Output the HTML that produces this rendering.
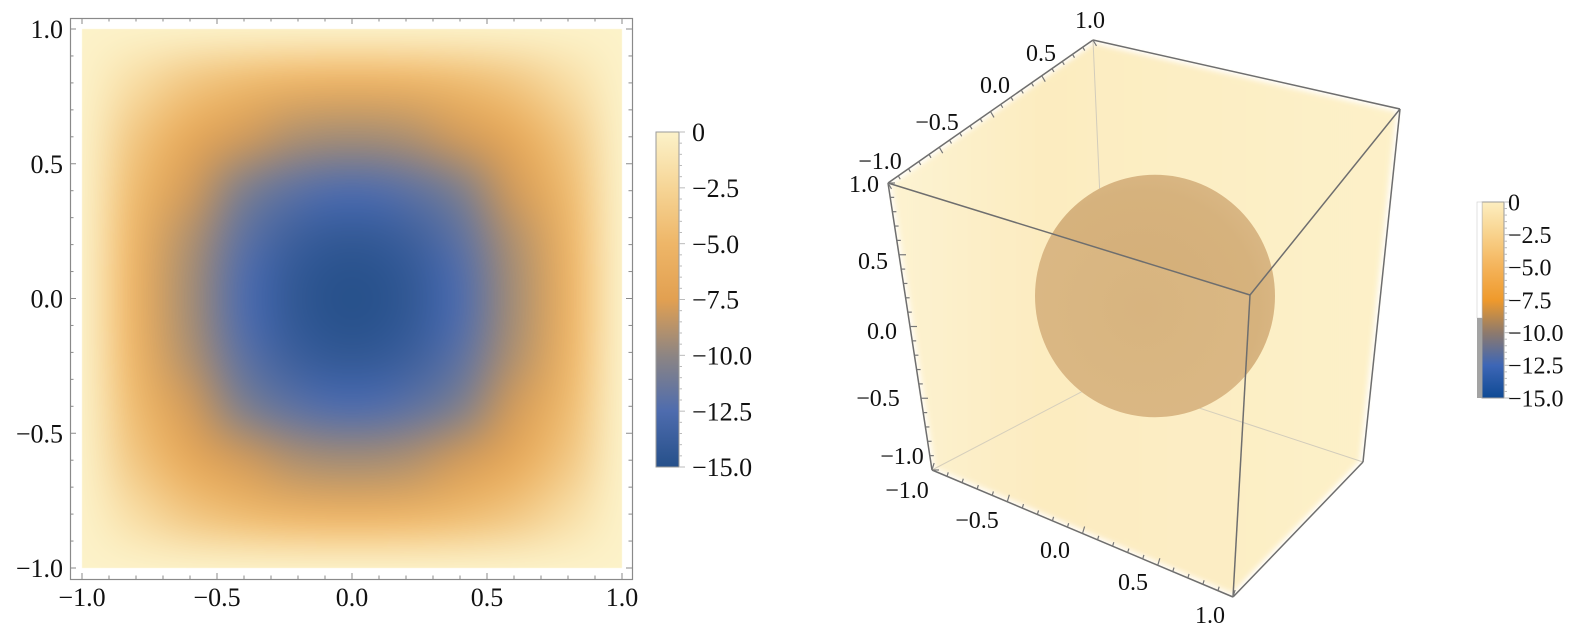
<!DOCTYPE html>
<html><head><meta charset="utf-8">
<style>
body{margin:0;background:#fff;width:1591px;height:636px;overflow:hidden;position:relative;font-family:"Liberation Serif",serif}
canvas,svg{position:absolute;left:0;top:0}
text{font-family:"Liberation Serif",serif;fill:#111}
</style></head>
<body>
<canvas id="heat" width="1591" height="636"></canvas>
<svg id="svg" width="1591" height="636"></svg>
<script>
// ---- data ----
const xTicks = [-1, -0.5, 0, 0.5, 1];
const yTicks = [-1, -0.5, 0, 0.5, 1];
const tickLabels = ["\u22121.0", "\u22120.5", "0.0", "0.5", "1.0"];
const cbValues = [0, -2.5, -5, -7.5, -10, -12.5, -15];
const cbLabels = ["0", "\u22122.5", "\u22125.0", "\u22127.5", "\u221210.0", "\u221212.5", "\u221215.0"];
const cmapColors = ["#fcf2c9", "#f6d596", "#eeb668", "#e2a051", "#8d8583", "#4e6cae", "#26508a"];
const cmap3dColors = ["#fdeec0", "#f8d28c", "#f4b35a", "#ef9a2c", "#8e7a6c", "#3d66b6", "#0f4a94"];
const gridX = [-1, -0.8, -0.6, -0.4, -0.2, 0, 0.2, 0.4, 0.6, 0.8, 1];
const zValues = [
 [0,0,0,0,0,0,0,0,0,0,0],
 [0,-1.8,-3.6,-4.6,-5.2,-5.4,-5.2,-4.6,-3.6,-1.8,0],
 [0,-3.6,-6.4,-8.0,-9.0,-9.3,-9.0,-8.0,-6.4,-3.6,0],
 [0,-4.6,-8.0,-10.6,-12.0,-12.5,-12.0,-10.6,-8.0,-4.6,0],
 [0,-5.2,-9.0,-12.0,-13.8,-14.4,-13.8,-12.0,-9.0,-5.2,0],
 [0,-5.4,-9.3,-12.5,-14.4,-15.0,-14.4,-12.5,-9.3,-5.4,0],
 [0,-5.2,-9.0,-12.0,-13.8,-14.4,-13.8,-12.0,-9.0,-5.2,0],
 [0,-4.6,-8.0,-10.6,-12.0,-12.5,-12.0,-10.6,-8.0,-4.6,0],
 [0,-3.6,-6.4,-8.0,-9.0,-9.3,-9.0,-8.0,-6.4,-3.6,0],
 [0,-1.8,-3.6,-4.6,-5.2,-5.4,-5.2,-4.6,-3.6,-1.8,0],
 [0,0,0,0,0,0,0,0,0,0,0]
];
const cube3dTicks = [-1, -0.5, 0, 0.5, 1];
const sphereRadius = [0.78];

// ---- helpers ----
const NS = "http://www.w3.org/2000/svg";
const svg = document.getElementById('svg');
function el(tag, attrs, parent){const e=document.createElementNS(NS,tag);for(const k in attrs)e.setAttribute(k,attrs[k]);(parent||svg).appendChild(e);return e;}
function hex2rgb(h){return [parseInt(h.slice(1,3),16),parseInt(h.slice(3,5),16),parseInt(h.slice(5,7),16)];}
function colorOf(v, cols){
  const t=Math.max(0,Math.min(1,-v/15))*(cols.length-1);
  const i=Math.min(cols.length-2,Math.floor(t)), f=t-i;
  const a=hex2rgb(cols[i]), b=hex2rgb(cols[i+1]);
  return [0,1,2].map(k=>Math.round(a[k]+(b[k]-a[k])*f));
}
// ---- left plot axes ----
const X0=82, X1=622, Y0=568, Y1=29;
const sx = v => X0 + (v+1)/2*(X1-X0);
const sy = v => Y0 - (v+1)/2*(Y0-Y1);

// heatmap
(function(){
  const n=gridX.length;
  const off=document.createElement('canvas'); off.width=n; off.height=n;
  const octx=off.getContext('2d'); const img=octx.createImageData(n,n);
  for(let j=0;j<n;j++)for(let i=0;i<n;i++){
    const c=colorOf(zValues[j][i],cmapColors); const p=(j*n+i)*4;
    img.data[p]=c[0];img.data[p+1]=c[1];img.data[p+2]=c[2];img.data[p+3]=255;
  }
  octx.putImageData(img,0,0);
  const ctx=document.getElementById('heat').getContext('2d');
  ctx.save(); ctx.beginPath(); ctx.rect(X0,Y1,X1-X0,Y0-Y1); ctx.clip();
  ctx.imageSmoothingEnabled=true; ctx.imageSmoothingQuality='high';
  const cw=(X1-X0)/(n-1), ch=(Y0-Y1)/(n-1);
  ctx.drawImage(off, X0-cw/2, Y1-ch/2, (X1-X0)+cw, (Y0-Y1)+ch);
  ctx.restore();
})();

const left = el('g',{});


const frame = el('rect',{x:70.5,y:18.5,width:562,height:561,fill:'none',stroke:'#8a8a8a','stroke-width':1.2},left);


for(let k=-10;k<=10;k++){
  const v=k/10, major=(k%5===0), L=major?6:3.5;
  const x=sx(v), y=sy(v);
  el('line',{x1:x,y1:579,x2:x,y2:579-L,stroke:'#8a8a8a'},left);
  el('line',{x1:x,y1:18,x2:x,y2:18+L,stroke:'#8a8a8a'},left);
  el('line',{x1:70,y1:y,x2:70+L,y2:y,stroke:'#8a8a8a'},left);
  el('line',{x1:632,y1:y,x2:632-L,y2:y,stroke:'#8a8a8a'},left);
}
xTicks.forEach((v,i)=>{
  const t=el('text',{x:sx(v),y:606,'font-size':26,'text-anchor':'middle'},left);
  t.textContent=tickLabels[i];
  
  
});
yTicks.forEach((v,i)=>{
  const t=el('text',{x:63,y:sy(v)+9,'font-size':26,'text-anchor':'end'},left);
  t.textContent=tickLabels[i];
  
  
});

// colorbar builder
function colorbar(x,y0,y1,w,cols,id,fs,lx){
  const g=el('g',{});
  
  
  const defs=el('defs',{},g);
  const lg=el('linearGradient',{id:'cb'+id,x1:0,y1:0,x2:0,y2:1},defs);
  cbValues.forEach((v,i)=>{const c=colorOf(v,cols);el('stop',{offset:(-v/15),'stop-color':'rgb('+c.join(',')+')'},lg);});
  el('rect',{x:x,y:y0,width:w,height:y1-y0,fill:'url(#cb'+id+')',stroke:'#9a9a9a','stroke-width':1},g);
  const cy=v=>y0+(-v/15)*(y1-y0);
  for(let k=0;k<=30;k++){const yy=cy(-k/2);el('line',{x1:x+w,y1:yy,x2:x+w+(k%5===0?6:3),y2:yy,stroke:'#bbb'},g);}
  cbValues.forEach((v,i)=>{
    const t=el('text',{x:lx,y:cy(v)+fs*0.35,'font-size':fs},g);
    t.textContent=cbLabels[i];
    
    
  });
  return g;
}
colorbar(656,132,467,23,cmapColors,'left',26,692);

// ---- right 3D plot ----
const P={tb:[1093,40],r:[1400,109],lt:[888,183],ft:[1250,295],bl:[932,470],bf:[1233,597],rb:[1363,462],bb:[1108,378]};
const right=el('g',{});


const defs=el('defs',{},right);
const cg=el('linearGradient',{id:'cubeFill',x1:0,y1:0,x2:1,y2:0},defs);
el('stop',{offset:0,'stop-color':'#fdf4d3'},cg);
el('stop',{offset:0.3,'stop-color':'#fcecc0'},cg);
el('stop',{offset:1,'stop-color':'#fdf1c9'},cg);
const sg=el('radialGradient',{id:'sphFill',cx:0.45,cy:0.55,r:0.6},defs);
el('stop',{offset:0,'stop-color':'#d4ae78'},sg);
el('stop',{offset:0.8,'stop-color':'#d6b27d'},sg);
el('stop',{offset:1,'stop-color':'#dab886'},sg);
const flt=el('filter',{id:'blur'},defs); el('feGaussianBlur',{stdDeviation:3},flt);
const pts=k=>P[k].join(',');
const cube=el('polygon',{points:[pts('tb'),pts('r'),pts('rb'),pts('bf'),pts('bl'),pts('lt')].join(' '),fill:'url(#cubeFill)',stroke:'#fff','stroke-width':6,filter:'url(#blur)'},right);


[['tb','bb'],['bb','bl'],['bb','rb']].forEach(e=>el('line',{x1:P[e[0]][0],y1:P[e[0]][1],x2:P[e[1]][0],y2:P[e[1]][1],stroke:'#d2ccbb','stroke-width':1},right));
const scx=1155, scy=296, sr=120/0.78;
const sph=el('ellipse',{cx:scx,cy:scy,rx:sphereRadius[0]*sr,ry:sphereRadius[0]*sr*1.01,fill:'url(#sphFill)'},right);


el('polygon',{points:[pts('lt'),pts('ft'),pts('bf'),pts('bl')].join(' '),fill:'#fdf0c8',opacity:0.1},right);
[['lt','tb'],['tb','r'],['r','ft'],['lt','ft'],['ft','bf'],['lt','bl'],['bl','bf'],['bf','rb'],['rb','r']].forEach(e=>{
  const l=el('line',{x1:P[e[0]][0],y1:P[e[0]][1],x2:P[e[1]][0],y2:P[e[1]][1],stroke:'#6e6e6e','stroke-width':1.5},right);
  
  
});
function axis3d(a,b,nx,ny,labelPos,name){
  for(let k=0;k<=20;k++){
    const t=k/20, x=a[0]+(b[0]-a[0])*t, y=a[1]+(b[1]-a[1])*t, L=(k%5===0)?7:4;
    el('line',{x1:x,y1:y,x2:x+nx*L,y2:y+ny*L,stroke:'#777','stroke-width':1.2},right);
  }
  cube3dTicks.forEach((v,i)=>{
    const t=el('text',{x:labelPos[i][0],y:labelPos[i][1]+8,'font-size':24,'text-anchor':'middle'},right);
    t.textContent=tickLabels[i];
    
    
  });
}
axis3d(P.lt,P.tb,0.5,0.85,[[880,161],[937,122],[995,85],[1041,53],[1090,20]],'y-axis-3d');
axis3d(P.bl,P.lt,1,0,[[902,456],[878,398],[882,331],[873,261],[864,184]],'z-axis-3d');
axis3d(P.bl,P.bf,0.3,-1,[[907,490],[977,520],[1055,550],[1133,582],[1210,615]],'x-axis-3d');
colorbar(1482,202,398,22,cmap3dColors,'right',24,1508);
el('rect',{x:1477,y:202,width:5,height:116,fill:'#fff',stroke:'#ccc','stroke-width':0.6});
el('rect',{x:1477,y:318,width:5,height:80,fill:'#a3a3a3'});
</script>
</body></html>
